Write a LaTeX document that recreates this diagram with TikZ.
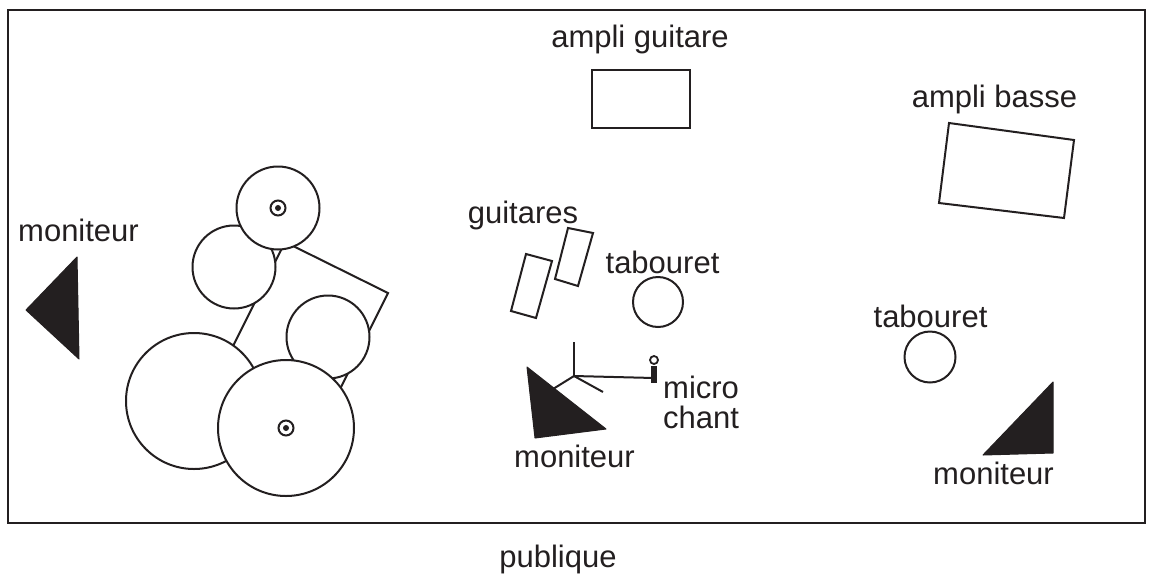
\documentclass[tikz,border=0pt]{standalone}
\usepackage{fontspec}
\setmainfont{Liberation Sans}
\definecolor{ink}{HTML}{231F20}
\begin{document}
\begin{tikzpicture}[x=1pt,y=-1pt,
  lbl/.style={inner sep=0pt,text=ink,font=\fontsize{31}{37}\selectfont},
  obj/.style={draw=ink,line width=2pt,fill=white},
  mon/.style={fill=ink,draw=ink,line width=1pt,line join=round},
  frame/.style={draw=ink,line width=2.8pt}]
\useasboundingbox (0,0) rectangle (1153,579);
% stage frame
\draw[frame] (8,10) rectangle (1145,523);
% labels
\node[lbl,anchor=base] (lampg) at (640,47) {ampli guitare};
\node[lbl,anchor=base] (lampb) at (994.5,107) {ampli basse};
\node[lbl,anchor=base] (lmonl) at (78.5,241) {moniteur};
\node[lbl,anchor=base] (lguit) at (523,223) {guitares};
\node[lbl,anchor=base] (ltabm) at (662.5,273) {tabouret};
\node[lbl,anchor=base] (ltabr) at (930.5,327) {tabouret};
\node[lbl,anchor=base west] (lmic) at (663,398) {micro};
\node[lbl,anchor=base west] (lchant) at (663,428) {chant};
\node[lbl,anchor=base] (lmonm) at (574.5,467) {moniteur};
\node[lbl,anchor=base] (lmonr) at (993.5,484) {moniteur};
\node[lbl,anchor=base] (lpub) at (558,567) {publique};
% amps
\draw[obj] (592,70) rectangle (690,128);
\draw[obj,line join=miter] (949,123) -- (1074,140) -- (1064,218) -- (939,203) -- cycle;
% guitars
\draw[obj] (526,254) -- (552,261) -- (536,318) -- (511,311) -- cycle;
\draw[obj] (568,228) -- (593,233) -- (578,286) -- (555,279) -- cycle;
% stools
\draw[obj] (658,302) circle[radius=25];
\draw[obj] (930,357) circle[radius=25.5];
% mic stand
\coordinate (stand) at (574,376);
\coordinate (mic) at (654,378);
\draw[ink,line width=2pt] (574,342) -- (stand);
\draw[ink,line width=2pt] (545,394) -- (stand) -- (603,392);
\draw[ink,line width=2pt] (stand) -- (mic);
\draw[ink,line width=6pt] (654,366) -- (654,383);
\draw[ink,line width=1.8pt,fill=white] (654,360) circle[radius=4];
% monitors
\filldraw[mon] (26,310) -- (77,257) -- (79,359) -- cycle;
\filldraw[mon] (527,367) -- (606,429) -- (535,438) -- cycle;
\filldraw[mon] (983,455) -- (1053,382) -- (1053,453) -- cycle;
% drum kit
\draw[obj,line join=miter] (285,242) -- (388,293) -- (330,409) -- (227,358) -- cycle;
\draw[obj] (234,267) circle[radius=41.5];
\draw[obj] (278,208) circle[radius=41.5];
\draw[ink,line width=2pt] (278,208) circle[radius=7.5];
\fill[ink] (278,208) circle[radius=3];
\draw[obj] (194,401) circle[radius=68];
\draw[obj] (328,337) circle[radius=41.5];
\draw[obj] (286,428) circle[radius=68];
\draw[ink,line width=2pt] (286,428) circle[radius=7.5];
\fill[ink] (286,428) circle[radius=3];
\end{tikzpicture}
\end{document}
